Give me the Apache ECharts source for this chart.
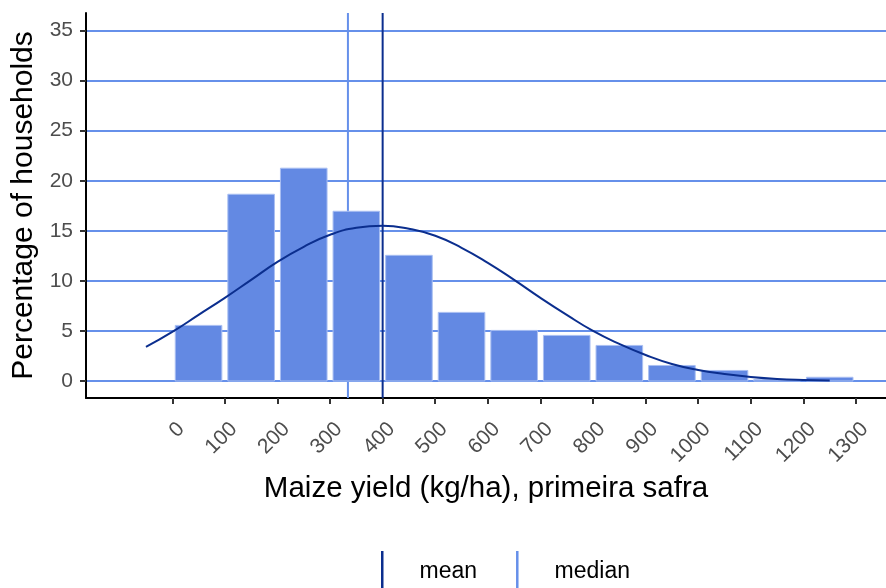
<!DOCTYPE html>
<html>
<head>
<meta charset="utf-8">
<script src="https://cdn.jsdelivr.net/npm/echarts@6/dist/echarts.min.js"></script>
<style>
html,body{margin:0;padding:0;background:#fff;}
#chart{width:886px;height:588px;}
</style>
</head>
<body>
<div id="chart"></div>
<script>
// Histogram bins (kg/ha) and percentage of households
const binStarts = [0, 100, 200, 300, 400, 500, 600, 700, 800, 900, 1000, 1100, 1200];
const binWidth = 100;
const binPercents = [5.6, 18.7, 21.3, 17.0, 12.6, 6.9, 5.1, 4.6, 3.6, 1.6, 1.1, 0.2, 0.42];

// Fitted normal curve
const curveX = [-50, 0, 50, 100, 150, 200, 250, 300, 350, 400, 450, 500, 550, 600, 650, 700, 750, 800, 850, 900, 950, 1000, 1050, 1100, 1150, 1200, 1250];
const curveY = [3.4, 4.9, 6.6, 8.3, 10.1, 11.9, 13.4, 14.6, 15.3, 15.5, 15.2, 14.5, 13.3, 11.8, 10.1, 8.3, 6.6, 5.0, 3.7, 2.6, 1.7, 1.1, 0.7, 0.4, 0.2, 0.1, 0.05];

const meanValue = 400;
const medianValue = 334;

const xTicks = [0, 100, 200, 300, 400, 500, 600, 700, 800, 900, 1000, 1100, 1200, 1300];
const yTicks = [0, 5, 10, 15, 20, 25, 30, 35];

const X_MIN = -164, X_MAX = 1357, Y_MIN = -1.7, Y_MAX = 36.75;
const LABEL_SHIFT = 17; // rotated tick labels sit slightly right of their ticks

const barColor = '#6389E3';
const gridColor = '#6690EA';
const navy = '#0B2E8E';
const fontFam = 'Liberation Sans, Arial, sans-serif';

const barData = binStarts.map((s, i) => [s, s + binWidth, binPercents[i]]);
const curveData = curveX.map((x, i) => [x, curveY[i]]);

const chart = echarts.init(document.getElementById('chart'), null, {renderer: 'canvas'});
chart.setOption({
  animation: false,
  backgroundColor: '#fff',
  grid: {left: 86, top: 13, width: 800, height: 385, containLabel: false},
  xAxis: [{
    type: 'value', min: X_MIN, max: X_MAX,
    name: 'Maize yield (kg/ha), primeira safra',
    nameLocation: 'middle', nameGap: 76,
    nameTextStyle: {fontFamily: fontFam, fontSize: 29.5, color: '#000'},
    axisLine: {show: true, onZero: false, lineStyle: {color: '#000', width: 2}},
    axisTick: {show: true, customValues: xTicks, length: 6, lineStyle: {color: '#333', width: 2}},
    axisLabel: {show: false, customValues: xTicks},
    splitLine: {show: false}
  }, {
    type: 'value', position: 'bottom',
    min: X_MIN - LABEL_SHIFT, max: X_MAX - LABEL_SHIFT,
    axisLine: {show: false}, axisTick: {show: false}, splitLine: {show: false},
    axisLabel: {
      customValues: xTicks, rotate: 45, margin: 28,
      fontFamily: fontFam, fontSize: 21, color: '#4D4D4D',
      formatter: v => String(v)
    }
  }],
  yAxis: {
    type: 'value', min: Y_MIN, max: Y_MAX,
    name: 'Percentage of households',
    nameLocation: 'middle', nameGap: 42,
    nameTextStyle: {fontFamily: fontFam, fontSize: 30, color: '#000'},
    axisLine: {show: true, onZero: false, lineStyle: {color: '#000', width: 2}},
    axisTick: {show: true, customValues: yTicks, length: 6, lineStyle: {color: '#333', width: 2}},
    axisLabel: {customValues: yTicks, margin: 13, fontFamily: fontFam, fontSize: 21, color: '#4D4D4D'},
    splitLine: {show: true, lineStyle: {color: gridColor, width: 2}}
  },
  legend: {
    left: 376, top: 546,
    itemWidth: 2.5, itemHeight: 42, itemGap: 39,
    textStyle: {fontFamily: fontFam, fontSize: 23, color: '#000', padding: [0, 0, 0, 31]},
    data: [
      {name: 'mean', icon: 'rect', itemStyle: {color: navy}},
      {name: 'median', icon: 'rect', itemStyle: {color: gridColor}}
    ]
  },
  series: [
    {
      name: 'median', type: 'line', z: 1, xAxisIndex: 0,
      data: [[medianValue, Y_MIN], [medianValue, Y_MAX]],
      symbol: 'none', lineStyle: {color: gridColor, width: 2}, itemStyle: {color: gridColor}
    },
    {
      name: 'bins', type: 'custom', z: 2, xAxisIndex: 0,
      data: barData,
      encode: {x: [0, 1], y: 2},
      renderItem: function (params, api) {
        const p0 = api.coord([api.value(0), api.value(2)]);
        const p1 = api.coord([api.value(1), 0]);
        const inset = 3;
        return {
          type: 'rect',
          shape: {x: p0[0] + inset, y: p0[1] + 0.5, width: p1[0] - p0[0] - 2 * inset, height: p1[1] - p0[1] - 0.5},
          style: {fill: barColor, stroke: '#A9BFF2', lineWidth: 1}
        };
      }
    },
    {
      name: 'mean', type: 'line', z: 3, xAxisIndex: 0,
      data: [[meanValue, Y_MIN], [meanValue, Y_MAX]],
      symbol: 'none', lineStyle: {color: navy, width: 2}, itemStyle: {color: navy}
    },
    {
      name: 'normal', type: 'line', z: 4, xAxisIndex: 0,
      data: curveData, smooth: true, symbol: 'none',
      lineStyle: {color: navy, width: 2}
    }
  ]
});
</script>
</body>
</html>
